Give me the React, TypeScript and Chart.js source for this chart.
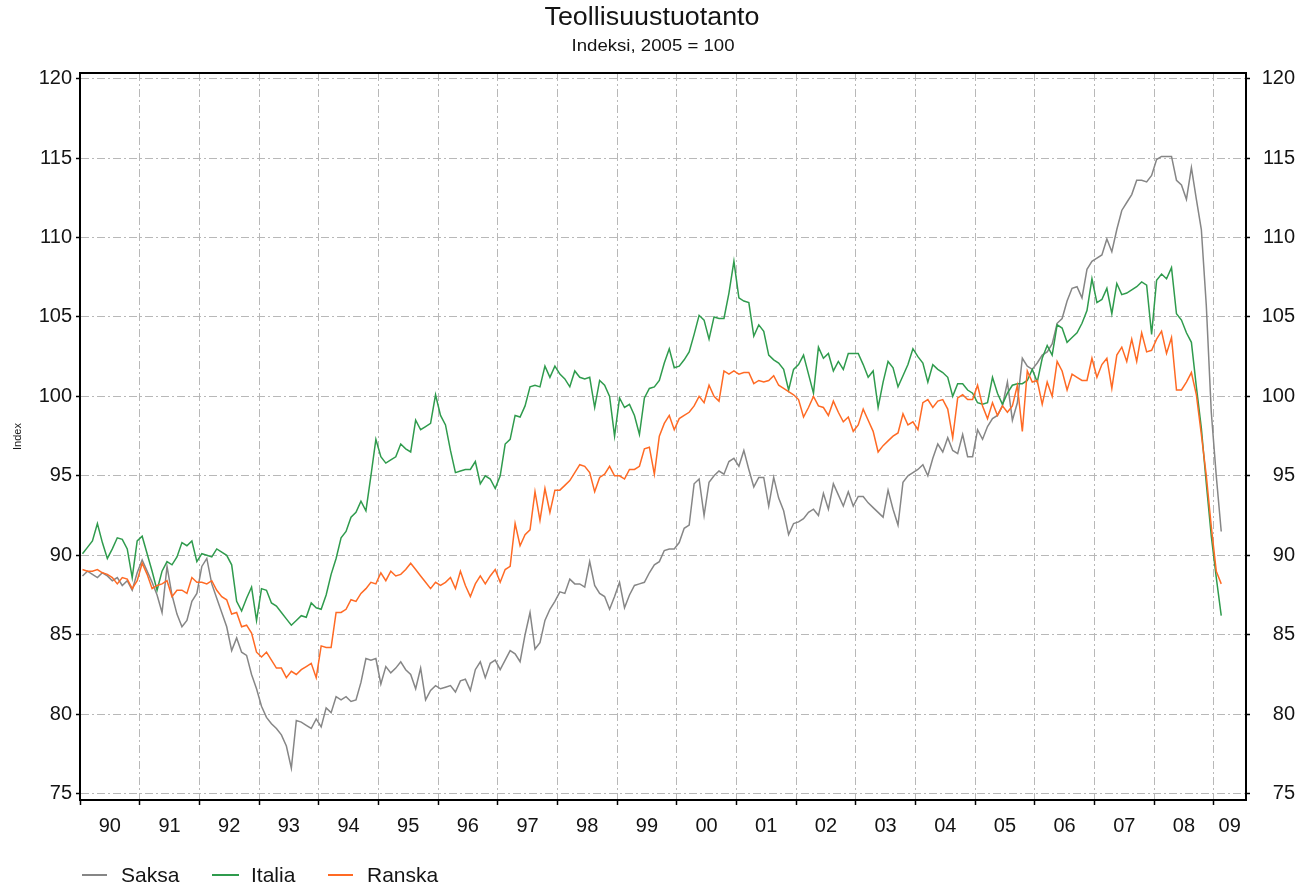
import React, { useEffect, useRef } from 'react';
import { Chart, registerables } from 'chart.js';

Chart.register(...registerables);

// ---------------- DATA ----------------
const START_YEAR = 1990;
const TITLE = 'Teollisuustuotanto';
const SUBTITLE = 'Indeksi, 2005 = 100';
const Y_TITLE = 'Index';
const seriesNames = ['Saksa', 'Italia', 'Ranska'];
const yTickValues = [75, 80, 85, 90, 95, 100, 105, 110, 115, 120];
const yearTickValues = [1990, 1991, 1992, 1993, 1994, 1995, 1996, 1997, 1998, 1999, 2000, 2001, 2002, 2003, 2004, 2005, 2006, 2007, 2008, 2009];
const yearLabels = ['90', '91', '92', '93', '94', '95', '96', '97', '98', '99', '00', '01', '02', '03', '04', '05', '06', '07', '08', '09'];

// monthly values, Jan 1990 .. Feb 2009
const saksa = [
  88.7, 89.0, 88.8, 88.6, 88.9, 88.7, 88.4, 88.6, 88.1, 88.4, 87.8, 88.9,
  89.7, 89.0, 88.3, 87.5, 86.4, 89.3, 87.5, 86.3, 85.5, 85.9, 87.1, 87.6,
  89.3, 89.8, 88.2, 87.3, 86.4, 85.5, 84.0, 84.8, 83.9, 83.7, 82.5, 81.6,
  80.5, 79.8, 79.4, 79.1, 78.7, 78.0, 76.6, 79.6, 79.5, 79.3, 79.1, 79.7,
  79.2, 80.4, 80.1, 81.1, 80.9, 81.1, 80.8, 80.9, 82.0, 83.5, 83.4, 83.5,
  81.9, 83.0, 82.6, 82.9, 83.3, 82.8, 82.5, 81.6, 82.9, 80.9, 81.5, 81.8,
  81.6, 81.7, 81.8, 81.4, 82.1, 82.2, 81.5, 82.8, 83.3, 82.3, 83.2, 83.4,
  82.8, 83.4, 84.0, 83.8, 83.3, 85.0, 86.4, 84.1, 84.5, 85.9, 86.6, 87.1,
  87.7, 87.6, 88.5, 88.2, 88.2, 88.0, 89.6, 88.1, 87.6, 87.4, 86.6, 87.4,
  88.3, 86.7, 87.5, 88.1, 88.2, 88.3, 88.9, 89.4, 89.6, 90.3, 90.4, 90.4,
  90.8, 91.7, 91.9, 94.5, 94.8, 92.5, 94.6, 95.0, 95.3, 95.1, 95.9, 96.1,
  95.6, 96.6, 95.4, 94.3, 94.9, 94.9, 93.1, 94.9, 93.6, 92.8, 91.3, 92.0,
  92.1, 92.3, 92.7, 92.9, 92.5, 93.9, 92.9, 94.5, 93.8, 93.1, 94.0, 93.1,
  93.7, 93.7, 93.3, 93.0, 92.7, 92.4, 94.1, 92.9, 91.9, 94.6, 95.0, 95.2,
  95.4, 95.7, 95.0, 96.1, 97.0, 96.5, 97.4, 96.6, 96.4, 97.6, 96.2, 96.2,
  97.9, 97.3, 98.1, 98.6, 98.8, 99.4, 100.9, 98.5, 99.6, 102.4, 101.9, 101.7,
  102.1, 102.6, 102.8, 103.3, 104.6, 104.9, 106.0, 106.8, 106.9, 106.2, 108.0, 108.5,
  108.7, 108.9, 109.9, 109.1, 110.5, 111.7, 112.2, 112.7, 113.6, 113.6, 113.5, 113.9,
  114.9, 115.1, 115.1, 115.1, 113.6, 113.3, 112.4, 114.4, 112.4, 110.5, 105.7, 99.0,
  95.0, 91.5,
];

const italia = [
  90.1, 90.5, 90.9, 92.0, 90.8, 89.8, 90.4, 91.1, 91.0, 90.4, 88.6, 90.9,
  91.2, 90.1, 89.0, 87.8, 89.0, 89.6, 89.4, 89.9, 90.8, 90.6, 90.9, 89.6,
  90.1, 90.0, 89.9, 90.4, 90.2, 90.0, 89.4, 87.1, 86.5, 87.3, 88.0, 85.9,
  87.9, 87.8, 87.0, 86.8, 86.4, 86.0, 85.6, 85.9, 86.2, 86.1, 87.0, 86.7,
  86.6, 87.5, 88.8, 89.8, 91.1, 91.5, 92.4, 92.7, 93.4, 92.8, 95.0, 97.3,
  96.2, 95.8, 96.0, 96.2, 97.0, 96.7, 96.5, 98.5, 97.9, 98.1, 98.3, 100.1,
  98.8, 98.2, 96.6, 95.2, 95.3, 95.4, 95.4, 95.9, 94.5, 95.0, 94.8, 94.2,
  95.0, 97.0, 97.3, 98.8, 98.7, 99.4, 100.6, 100.7, 100.6, 101.9, 101.2, 101.9,
  101.4, 101.1, 100.6, 101.6, 101.2, 101.1, 101.2, 99.3, 101.0, 100.7, 100.0, 97.5,
  99.9, 99.3, 99.5, 98.8, 97.6, 99.9, 100.5, 100.6, 101.0, 102.1, 103.0, 101.8,
  101.9, 102.3, 102.8, 103.9, 105.1, 104.8, 103.6, 105.0, 104.9, 104.9, 106.5, 108.5,
  106.2, 106.0, 105.9, 103.8, 104.5, 104.1, 102.6, 102.3, 102.1, 101.7, 100.4, 101.7,
  102.0, 102.6, 101.4, 100.2, 103.1, 102.4, 102.7, 101.6, 102.2, 101.7, 102.7, 102.7,
  102.7, 102.0, 101.2, 101.6, 99.3, 100.9, 102.2, 101.8, 100.6, 101.3, 102.0, 103.0,
  102.5, 102.1, 100.9, 102.0, 101.7, 101.5, 101.2, 100.0, 100.8, 100.8, 100.4, 100.2,
  99.6, 99.5, 99.6, 101.2, 100.2, 99.5, 100.2, 100.7, 100.8, 100.8, 101.0, 101.7,
  100.9, 102.4, 103.2, 102.6, 104.5, 104.3, 103.4, 103.7, 104.0, 104.6, 105.4, 107.4,
  105.9, 106.1, 106.8, 105.2, 107.1, 106.4, 106.5, 106.7, 106.9, 107.2, 107.0, 103.9,
  107.3, 107.7, 107.4, 108.1, 105.2, 104.8, 104.0, 103.4, 100.6, 98.0, 94.5, 91.2,
  88.6, 86.2,
];

const ranska = [
  89.1, 89.0, 89.0, 89.1, 88.9, 88.8, 88.6, 88.2, 88.6, 88.5, 87.9, 88.4,
  89.5, 88.8, 87.9, 88.1, 88.2, 88.4, 87.4, 87.8, 87.8, 87.6, 88.6, 88.3,
  88.3, 88.2, 88.4, 87.8, 87.4, 87.2, 86.3, 86.4, 85.5, 85.6, 85.1, 83.9,
  83.6, 83.9, 83.4, 82.9, 82.9, 82.3, 82.7, 82.5, 82.8, 83.0, 83.2, 82.3,
  84.3, 84.2, 84.2, 86.4, 86.4, 86.6, 87.2, 87.1, 87.6, 87.9, 88.3, 88.2,
  88.9, 88.4, 89.0, 88.7, 88.8, 89.1, 89.5, 89.1, 88.7, 88.3, 87.9, 88.3,
  88.1, 88.3, 88.6, 87.9, 89.0, 88.1, 87.4, 88.2, 88.7, 88.2, 88.7, 89.1,
  88.3, 89.1, 89.3, 92.0, 90.6, 91.3, 91.6, 94.0, 92.2, 94.2, 92.7, 94.1,
  94.1, 94.4, 94.7, 95.2, 95.7, 95.6, 95.2, 94.0, 94.9, 95.1, 95.6, 95.0,
  95.0, 94.8, 95.4, 95.4, 95.6, 96.7, 96.8, 95.1, 97.5, 98.3, 98.8, 97.9,
  98.6, 98.8, 99.0, 99.4, 100.0, 99.6, 100.7, 100.0, 99.7, 101.6, 101.4, 101.6,
  101.4, 101.5, 101.5, 100.8, 101.0, 100.9, 101.0, 101.3, 100.7, 100.5, 100.3, 100.1,
  99.8, 98.7, 99.3, 100.0, 99.4, 99.3, 98.8, 99.7, 99.0, 98.4, 98.7, 97.8,
  98.2, 99.2, 98.5, 97.8, 96.5, 96.9, 97.2, 97.5, 97.7, 98.9, 98.2, 98.4,
  97.9, 99.6, 99.8, 99.3, 99.7, 99.8, 99.2, 97.4, 99.9, 100.1, 99.8, 99.8,
  100.7, 99.4, 98.6, 99.6, 98.8, 99.4, 99.0, 99.4, 100.7, 97.8, 101.6, 100.9,
  101.0, 99.5, 100.9, 100.0, 102.2, 101.6, 100.4, 101.4, 101.2, 101.0, 101.0, 102.4,
  101.2, 102.0, 102.4, 100.5, 102.6, 103.1, 102.2, 103.6, 102.2, 104.0, 102.8, 102.9,
  103.6, 104.1, 102.7, 103.7, 100.4, 100.4, 100.9, 101.5, 100.1, 97.6, 95.0, 91.8,
  89.0, 88.2,
];

// ---------------- STYLE ----------------
const FONT = '"Liberation Sans", Arial, Helvetica, sans-serif';
const COLORS = ['#868686', '#2f9b4d', '#ff6a24'];
const GRID_COLOR = '#b8b8b8';
const GRID_DASH = [8, 3, 2, 3];
const TEXT_COLOR = '#141414';

function toPoints(values: number[]) {
  return values.map((v, i) => ({ x: START_YEAR + (i + 0.5) / 12, y: v }));
}

function drawFittedText(ctx: CanvasRenderingContext2D, text: string, cx: number, baseline: number, font: string, targetWidth: number) {
  ctx.save();
  ctx.font = font;
  const w = ctx.measureText(text).width;
  const s = w > 0 ? targetWidth / w : 1;
  ctx.translate(cx, baseline);
  ctx.scale(s, 1);
  ctx.textAlign = 'center';
  ctx.textBaseline = 'alphabetic';
  ctx.fillStyle = TEXT_COLOR;
  ctx.fillText(text, 0, 0);
  ctx.restore();
}

const decorPlugin = {
  id: 'decor',
  afterDraw(chart: any) {
    const { ctx, chartArea } = chart;
    ctx.save();
    // top frame line
    ctx.strokeStyle = '#000';
    ctx.lineWidth = 2;
    ctx.beginPath();
    ctx.moveTo(chartArea.left - 1, chartArea.top);
    ctx.lineTo(chartArea.right + 1, chartArea.top);
    ctx.stroke();

    // titles
    drawFittedText(ctx, TITLE, 652, 25, `25px ${FONT}`, 215);
    drawFittedText(ctx, SUBTITLE, 653, 50.5, `16px ${FONT}`, 163);

    // legend
    const legendLines = [[82, 107], [212, 239], [328, 353]];
    const legendText = [121, 251, 367];
    ctx.font = `21px ${FONT}`;
    ctx.textAlign = 'left';
    ctx.textBaseline = 'alphabetic';
    seriesNames.forEach((name, i) => {
      ctx.strokeStyle = COLORS[i];
      ctx.lineWidth = 2;
      ctx.beginPath();
      ctx.moveTo(legendLines[i][0], 875);
      ctx.lineTo(legendLines[i][1], 875);
      ctx.stroke();
      ctx.fillStyle = TEXT_COLOR;
      ctx.fillText(name, legendText[i], 882);
    });
    ctx.restore();
  },
};

const tickFont = { family: FONT, size: 20 };

export default function App() {
  const canvasRef = useRef<HTMLCanvasElement | null>(null);

  useEffect(() => {
    const canvas = canvasRef.current;
    if (!canvas) return;
    const yMin = 74.6;
    const yMax = 120.35;
    const setYTicks = (scale: any) => {
      scale.ticks = yTickValues.map((v) => ({ value: v }));
    };
    const baseDataset = { pointRadius: 0, borderWidth: 1.5, tension: 0, fill: false };
    const chart = new Chart(canvas, {
      type: 'line',
      data: {
        datasets: [
          { ...baseDataset, label: seriesNames[0], data: toPoints(saksa), borderColor: COLORS[0], order: 3 },
          { ...baseDataset, label: seriesNames[1], data: toPoints(italia), borderColor: COLORS[1], order: 2 },
          { ...baseDataset, label: seriesNames[2], data: toPoints(ranska), borderColor: COLORS[2], order: 1 },
        ],
      },
      options: {
        responsive: false,
        animation: false,
        layout: { padding: { top: 73, right: 4, bottom: 0, left: 0 } },
        plugins: {
          legend: { display: false },
          title: { display: false },
          tooltip: { enabled: false },
        },
        scales: {
          x: {
            type: 'linear',
            position: 'bottom',
            min: 1990,
            max: 2009.54,
            afterBuildTicks: (scale: any) => {
              scale.ticks = yearTickValues.map((v) => ({ value: v }));
            },
            afterFit: (scale: any) => {
              scale.height = 87;
            },
            ticks: {
              autoSkip: false,
              maxRotation: 0,
              minRotation: 0,
              labelOffset: 29.84,
              padding: 9,
              color: TEXT_COLOR,
              font: tickFont,
              callback: (_v: any, i: number) => (i === yearLabels.length - 1 ? yearLabels[i] + '\u00a0\u00a0\u00a0\u00a0\u00a0' : yearLabels[i]),
            },
            grid: {
              color: GRID_COLOR,
              lineWidth: 1,
              drawTicks: true,
              tickLength: 5,
              tickColor: '#000',
              tickWidth: 1.5,
              tickBorderDash: [],
            },
            border: { display: true, color: '#000', width: 2, dash: GRID_DASH },
          },
          y: {
            type: 'linear',
            position: 'left',
            min: yMin,
            max: yMax,
            afterBuildTicks: setYTicks,
            afterFit: (scale: any) => {
              scale.width = 80;
            },
            ticks: { padding: 4, color: TEXT_COLOR, font: tickFont },
            grid: {
              color: GRID_COLOR,
              lineWidth: 1,
              drawTicks: true,
              tickLength: 4,
              tickColor: '#000',
              tickWidth: 1.5,
              tickBorderDash: [],
            },
            border: { display: true, color: '#000', width: 2, dash: GRID_DASH },
            title: {
              display: true,
              text: Y_TITLE,
              color: TEXT_COLOR,
              font: { family: FONT, size: 11 },
              padding: { top: 11, bottom: 0 },
            },
          },
          y2: {
            type: 'linear',
            position: 'right',
            min: yMin,
            max: yMax,
            afterBuildTicks: setYTicks,
            afterFit: (scale: any) => {
              scale.width = 49;
            },
            ticks: { padding: 8, color: TEXT_COLOR, font: tickFont, crossAlign: 'far' },
            grid: {
              drawOnChartArea: false,
              color: GRID_COLOR,
              drawTicks: true,
              tickLength: 4,
              tickColor: '#000',
              tickWidth: 1.5,
              tickBorderDash: [],
            },
            border: { display: true, color: '#000', width: 2 },
          },
        },
      },
      plugins: [decorPlugin],
    } as any);
    return () => {
      chart.destroy();
    };
  }, []);

  return (
    <div style={{ position: 'absolute', left: 0, top: 0, width: 1299, height: 887, background: '#fff' }}>
      <canvas ref={canvasRef} width={1299} height={887} style={{ width: 1299, height: 887, display: 'block' }} />
    </div>
  );
}
